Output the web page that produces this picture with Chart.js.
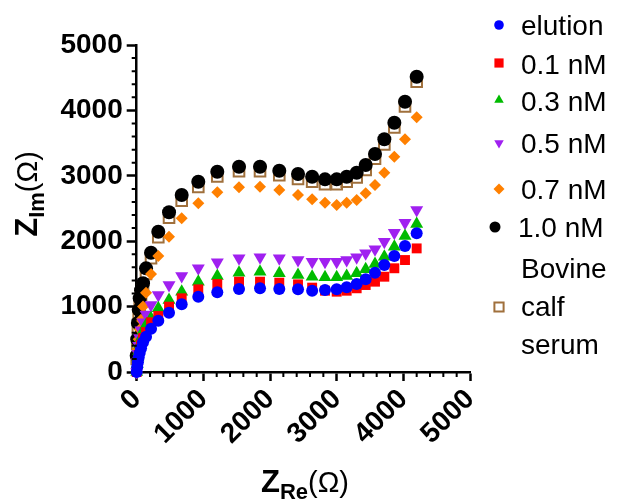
<!DOCTYPE html>
<html>
<head>
<meta charset="utf-8">
<script src="https://cdn.jsdelivr.net/npm/chart.js@4.4.0/dist/chart.umd.min.js"></script>
<style>
html,body{margin:0;padding:0;background:#fff;}
#wrap{width:617px;height:502px;}
</style>
</head>
<body>
<div id="wrap"><canvas id="c" width="617" height="502"></canvas></div>
<script>
// Shared Z_Re values (Ω)
const zRe = [0, 8, 18, 30, 45, 65, 95, 140, 215, 324, 485, 675, 924, 1209, 1535, 1850, 2139, 2420, 2632, 2825, 3000, 3150, 3300, 3435, 3575, 3715, 3865, 4025, 4200];
// Z_Im values (Ω) per series
const elution = [0, 80, 150, 220, 290, 362, 455, 540, 660, 784, 907, 1035, 1151, 1219, 1269, 1280, 1269, 1264, 1243, 1254, 1264, 1295, 1346, 1417, 1518, 1636, 1774, 1927, 2121];
const nM01 = [0, 100, 180, 260, 340, 420, 520, 610, 760, 856, 999, 1127, 1264, 1345, 1381, 1381, 1366, 1340, 1290, 1243, 1228, 1243, 1280, 1330, 1381, 1457, 1586, 1712, 1890];
const nM03 = [0, 120, 220, 320, 420, 520, 630, 720, 821, 974, 1101, 1228, 1381, 1468, 1518, 1533, 1509, 1483, 1457, 1448, 1448, 1468, 1509, 1570, 1651, 1763, 1916, 2079, 2263];
const nM05 = [0, 150, 280, 400, 520, 640, 760, 880, 1024, 1177, 1330, 1468, 1585, 1677, 1738, 1754, 1738, 1712, 1686, 1686, 1686, 1712, 1754, 1815, 1876, 1992, 2130, 2283, 2477];
const nM07 = [0, 200, 350, 500, 650, 800, 1000, 1213, 1498, 1774, 2069, 2350, 2580, 2748, 2824, 2833, 2783, 2706, 2640, 2589, 2553, 2589, 2630, 2732, 2859, 3047, 3292, 3558, 3894];
const nM10 = [250, 500, 750, 950, 1127, 1250, 1356, 1585, 1824, 2145, 2442, 2706, 2910, 3063, 3139, 3139, 3078, 3027, 2986, 2946, 2946, 2986, 3047, 3165, 3333, 3558, 3812, 4133, 4515];
const serum = [200, 430, 680, 880, 1050, 1180, 1280, 1500, 1740, 2060, 2360, 2620, 2830, 2990, 3070, 3070, 3010, 2950, 2910, 2870, 2870, 2910, 2975, 3090, 3260, 3480, 3740, 4060, 4440];
const seriesNames = ['elution', '0.1 nM', '0.3 nM', '0.5 nM', '0.7 nM', '1.0 nM', 'Bovine calf serum'];
const axisTicks = [0, 1000, 2000, 3000, 4000, 5000];

const pts = ys => ys.map((y, i) => ({x: zRe[i], y: y}));

const styles = [
  {color: '#0000FF', style: 'circle', r: 6, rot: 0, fill: true},
  {color: '#FF0000', style: 'rect', r: 7, rot: 0, fill: true},
  {color: '#00BB00', style: 'triangle', r: 7.5, rot: 0, fill: true},
  {color: '#A020F0', style: 'triangle', r: 7.5, rot: 180, fill: true},
  {color: '#FF8000', style: 'rectRot', r: 6, rot: 0, fill: true},
  {color: '#000000', style: 'circle', r: 7, rot: 0, fill: true},
  {color: '#A0703C', style: 'rect', r: 7.5, rot: 0, fill: false}
];
const seriesData = [elution, nM01, nM03, nM05, nM07, nM10, serum];

const datasets = seriesData.map((d, i) => {
  const s = styles[i];
  return {
    label: seriesNames[i],
    data: pts(d),
    showLine: false,
    pointStyle: s.style,
    pointRadius: s.r,
    pointRotation: s.rot,
    pointBackgroundColor: s.fill ? s.color : 'rgba(0,0,0,0)',
    pointBorderColor: s.color,
    pointBorderWidth: s.fill ? 0 : 2,
    backgroundColor: s.color,
    borderColor: s.color,
    clip: false
  };
});

const FONT = '"Liberation Sans", Arial, sans-serif';

const legendRows = [
  {i: 0, mx: 499, my: 25, lines: ['elution'], tx: 521, ty: [25]},
  {i: 1, mx: 499, my: 63, lines: ['0.1 nM'], tx: 521, ty: [64]},
  {i: 2, mx: 499, my: 100, lines: ['0.3 nM'], tx: 521, ty: [101]},
  {i: 3, mx: 499, my: 143, lines: ['0.5 nM'], tx: 521, ty: [143]},
  {i: 4, mx: 499, my: 189, lines: ['0.7 nM'], tx: 521, ty: [189]},
  {i: 5, mx: 495, my: 227, lines: ['1.0 nM'], tx: 518, ty: [227]},
  {i: 6, mx: 499, my: 307, lines: ['Bovine', 'calf', 'serum'], tx: 521, ty: [268, 306, 344]}
];
const legendSizes = [4.8, 6.5, 5.5, 5.5, 5.5, 5.5, 6.5];

const extras = {
  id: 'extras',
  afterDraw(chart) {
    const ctx = chart.ctx;
    const xs = chart.scales.x, ys = chart.scales.y;
    const ca = chart.chartArea;
    ctx.save();
    // minor ticks
    ctx.strokeStyle = '#000';
    ctx.lineWidth = 2;
    ctx.beginPath();
    for (let v = 200; v < 5000; v += 200) {
      if (v % 1000 === 0) continue;
      const px = xs.getPixelForValue(v);
      ctx.moveTo(px, ca.bottom);
      ctx.lineTo(px, ca.bottom + 5);
      const py = ys.getPixelForValue(v);
      ctx.moveTo(ca.left, py);
      ctx.lineTo(ca.left - 5, py);
    }
    ctx.stroke();

    // legend
    legendRows.forEach(row => {
      const s = styles[row.i];
      ctx.fillStyle = s.fill ? s.color : 'rgba(0,0,0,0)';
      ctx.strokeStyle = s.color;
      Chart.helpers.drawPoint(ctx, {
        pointStyle: s.style,
        radius: legendSizes[row.i],
        rotation: s.rot,
        borderWidth: s.fill ? 0 : 2
      }, row.mx, row.my);
      ctx.fillStyle = '#000';
      ctx.font = '28px ' + FONT;
      ctx.textAlign = 'left';
      ctx.textBaseline = 'alphabetic';
      row.lines.forEach((t, k) => ctx.fillText(t, row.tx, row.ty[k] + 10));
    });

    // axis titles with subscripts
    function composite(parts, cx, cy, rotate) {
      ctx.save();
      ctx.translate(cx, cy);
      if (rotate) ctx.rotate(-Math.PI / 2);
      let total = 0;
      parts.forEach(p => { ctx.font = p.font; p.w = ctx.measureText(p.t).width; total += p.w; });
      let x = -total / 2;
      ctx.fillStyle = '#000';
      ctx.textAlign = 'left';
      ctx.textBaseline = 'alphabetic';
      parts.forEach(p => { ctx.font = p.font; ctx.fillText(p.t, x, p.dy); x += p.w; });
      ctx.restore();
    }
    composite([
      {t: 'Z', font: 'bold 31px ' + FONT, dy: 0},
      {t: 'Re', font: 'bold 22px ' + FONT, dy: 7},
      {t: '(Ω)', font: '29px ' + FONT, dy: 0}
    ], 305, 492, false);
    composite([
      {t: 'Z', font: 'bold 31px ' + FONT, dy: 0},
      {t: 'Im', font: 'bold 22px ' + FONT, dy: 7},
      {t: '(Ω)', font: '29px ' + FONT, dy: 0}
    ], 37, 194, true);
    ctx.restore();
  }
};

new Chart(document.getElementById('c'), {
  type: 'scatter',
  data: {datasets: datasets},
  options: {
    responsive: false,
    animation: false,
    layout: {padding: {left: 0, right: 147, top: 45, bottom: 0}},
    plugins: {legend: {display: false}, tooltip: {enabled: false}},
    scales: {
      x: {
        type: 'linear', min: 0, max: 5000,
        afterBuildTicks: s => { s.ticks = axisTicks.map(v => ({value: v})); },
        afterFit: s => { s.height = 130; },
        ticks: {color: '#000', font: {family: FONT, size: 28, weight: 'bold'}, maxRotation: 45, minRotation: 45, padding: 2, autoSkip: false, callback: v => String(v)},
        grid: {drawOnChartArea: false, drawTicks: true, tickLength: 9, tickWidth: 2.5, tickColor: '#000'},
        border: {display: true, color: '#000', width: 2.5}
      },
      y: {
        type: 'linear', min: 0, max: 5000,
        afterBuildTicks: s => { s.ticks = axisTicks.map(v => ({value: v})); },
        afterFit: s => { s.width = 136.7; },
        ticks: {color: '#000', font: {family: FONT, size: 28, weight: 'bold'}, padding: 4, autoSkip: false, callback: v => String(v)},
        grid: {drawOnChartArea: false, drawTicks: true, tickLength: 10, tickWidth: 2.5, tickColor: '#000'},
        border: {display: true, color: '#000', width: 2.5}
      }
    }
  },
  plugins: [extras]
});
</script>
</body>
</html>
